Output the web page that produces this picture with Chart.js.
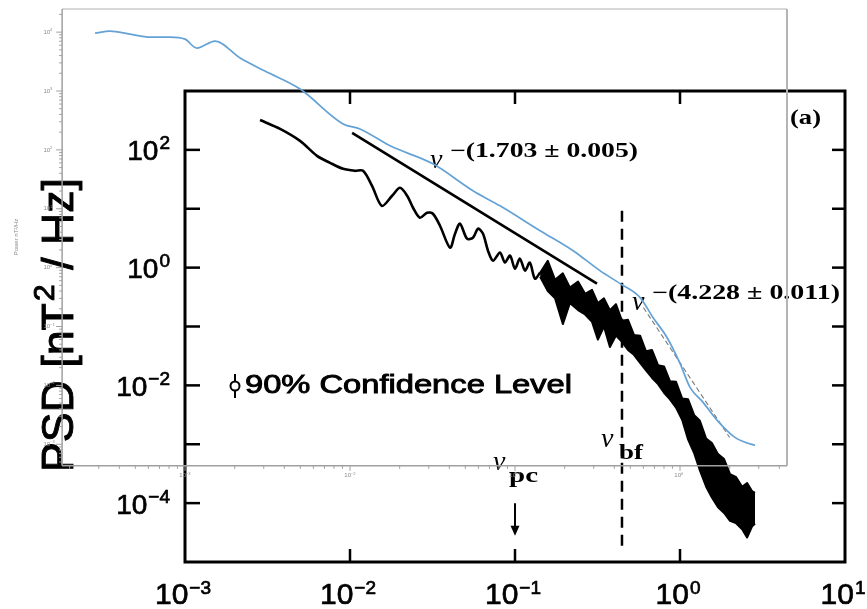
<!DOCTYPE html>
<html>
<head>
<meta charset="utf-8">
<script src="https://cdn.jsdelivr.net/npm/chart.js@4.4.1/dist/chart.umd.min.js"></script>
<style>
  html, body { margin: 0; padding: 0; background: #fff; }
  #psd { display: block; }
</style>
</head>
<body>
<canvas id="psd" width="867" height="609"></canvas>
<script>
// spectrum: frequency [Hz], PSD [nT^2/Hz]
var blackFreq = [2.85e-3, 3.77e-3, 4.98e-3, 6.31e-3, 7.57e-3, 9.08e-3, 1.07e-2, 1.20e-2, 1.36e-2, 1.56e-2,
                 1.80e-2, 2.01e-2, 2.22e-2, 2.41e-2, 2.65e-2, 2.93e-2, 3.18e-2, 3.51e-2, 4.04e-2, 4.33e-2,
                 4.64e-2, 5.12e-2, 5.56e-2, 5.97e-2, 6.40e-2, 6.86e-2, 7.36e-2, 8.11e-2, 8.69e-2, 9.33e-2,
                 0.100, 0.107, 0.115, 0.123, 0.132, 0.142];
var blackPsd = [322, 227, 142, 79.1, 60.2, 47.6, 44.1, 44.1, 24.5, 11.2,
                16.6, 22.7, 16.6, 10.4, 7.04, 8.55, 8.23, 5.15, 2.18, 3.77,
                5.57, 3.10, 3.22, 4.58, 3.77, 1.94, 1.31, 1.80, 1.22, 1.60,
                0.96, 1.42, 0.89, 1.22, 0.65, 0.82];

// noisy high-frequency part: upper and lower edge of the black band
var bandFreq = [0.142, 0.158, 0.175, 0.195, 0.215, 0.241, 0.266, 0.293, 0.318, 0.346,
                0.376, 0.409, 0.445, 0.484, 0.526, 0.573, 0.622, 0.676, 0.736, 0.800,
                0.869, 0.946, 1.03, 1.12, 1.22, 1.32, 1.44, 1.56, 1.70, 1.85,
                2.01, 2.18, 2.38, 2.55, 2.73, 2.85];
var bandHigh = [0.82, 1.3, 0.62, 0.80, 0.46, 0.58, 0.36, 0.42, 0.25, 0.30,
                0.19, 0.24, 0.125, 0.13, 0.072, 0.07, 0.038, 0.040, 0.022, 0.021,
                0.0118, 0.0115, 0.0060, 0.0058, 0.0031, 0.0025, 0.00125, 0.00105, 0.00068, 0.00056,
                0.00031, 0.00028, 0.00019, 0.00022, 0.00016, 0.00015];
var bandLow = [0.70, 0.40, 0.30, 0.11, 0.25, 0.19, 0.16, 0.12, 0.06, 0.10,
               0.045, 0.07, 0.055, 0.04, 0.033, 0.024, 0.018, 0.0135, 0.0105, 0.0075,
               0.0058, 0.0042, 0.0026, 0.0012, 0.0007, 0.00036, 0.00019, 0.000125, 8.5e-5, 6.8e-5,
               5.0e-5, 4.6e-5, 3.6e-5, 2.6e-5, 4.0e-5, 4.5e-5];

// blue curve of the pasted-over second plot
var blueFreq = [2.85e-4, 3.51e-4, 4.64e-4, 6.14e-4, 8.11e-4, 1.0e-3, 1.18e-3, 1.52e-3, 2.16e-3, 3.05e-3,
                4.98e-3, 9.08e-3, 1.15e-2, 1.75e-2, 3.18e-2, 5.56e-2, 8.11e-2, 0.142, 0.225, 0.327,
                0.433, 0.573, 0.686, 0.834, 1.0, 1.15, 1.38, 1.68, 2.15, 2.48, 2.85];
var bluePsd = [9600, 10400, 9250, 8230, 8230, 7610, 5350, 7040, 3630, 2180,
               1080, 276, 227, 117, 57.9, 20.2, 11.2, 4.24, 1.94, 0.89,
               0.535, 0.310, 0.142, 0.0651, 0.0236, 0.00925, 0.00515, 0.00255, 0.00131, 0.00108, 0.00096];

// power-law fits
var fit1Freq = [1.03e-2, 0.314];
var fit1Psd = [194, 0.535];
var fit2Freq = [0.60, 2.0];
var fit2Psd = [0.21, 0.0013];
var fitLabels = ['\u2212(1.703 \u00b1 0.005)', '\u2212(4.228 \u00b1 0.011)'];

// axes
var xTicks = [1e-3, 1e-2, 1e-1, 1, 10];
var xTickExp = ['\u22123', '\u22122', '\u22121', '0', '1'];
var xInner = [1e-2, 1e-1, 1];
var yTicks = [1e2, 1, 1e-2, 1e-4];
var yTickExp = ['2', '0', '\u22122', '\u22124'];
var yInner = [1e2, 1e1, 1, 1e-1, 1e-2, 1e-3, 1e-4];

var nuPc = 0.1;
var nuBf = 0.445;

// the inset plot frame (same scales as the main plot)
var insetX = [1.8e-4, 4.45];
var insetY = [4.3e-4, 2.47e4];
var insetYExp = [4, 3, 2, 1, 0, -1, -2, -3];
var insetXExp = [-3, -2, -1, 0];

var SANS = '"Liberation Sans", Arial, sans-serif';
var SERIF = '"Liberation Serif", "Times New Roman", serif';

function pts(xs, ys) {
  return xs.map(function(x, i) { return {x: x, y: ys[i]}; });
}

function seg(ctx, x1, y1, x2, y2) {
  ctx.beginPath(); ctx.moveTo(x1, y1); ctx.lineTo(x2, y2); ctx.stroke();
}

// draws text squeezed/stretched to a given width
function fitText(ctx, text, left, base, width, font, heavy) {
  ctx.font = font;
  var w = ctx.measureText(text).width;
  ctx.save();
  ctx.translate(left, base);
  ctx.scale(width / w, 1);
  ctx.textAlign = 'left';
  ctx.textBaseline = 'alphabetic';
  ctx.fillText(text, 0, 0);
  if (heavy) { ctx.lineWidth = heavy; ctx.strokeText(text, 0, 0); }
  ctx.restore();
}

// "10" with a raised exponent; x is the right edge or the centre
function pow10(ctx, exp, x, base, size, expSize, rise, align) {
  ctx.font = size + 'px ' + SANS;
  var wb = ctx.measureText('10').width;
  ctx.font = expSize + 'px ' + SANS;
  var we = ctx.measureText(exp).width;
  var left = align === 'right' ? x - wb - we - 1 : x - (wb + we + 1) / 2;
  ctx.textAlign = 'left';
  ctx.textBaseline = 'alphabetic';
  ctx.lineWidth = 0.7;
  ctx.font = size + 'px ' + SANS;
  ctx.fillText('10', left, base);
  ctx.strokeText('10', left, base);
  ctx.font = expSize + 'px ' + SANS;
  ctx.fillText(exp, left + wb + 1, base - rise);
  ctx.strokeText(exp, left + wb + 1, base - rise);
}

var framePlugin = {
  id: 'frame',
  beforeDatasetsDraw: function(chart) {
    var ctx = chart.ctx, a = chart.chartArea;
    var xs = chart.scales.x, ys = chart.scales.y;
    ctx.save();
    ctx.strokeStyle = '#000';
    ctx.fillStyle = '#000';
    ctx.lineCap = 'butt';

    ctx.lineWidth = 3;
    ctx.strokeRect(a.left, a.top, a.right - a.left, a.bottom - a.top);

    ctx.lineWidth = 2.5;
    yInner.forEach(function(v) {
      var y = ys.getPixelForValue(v);
      seg(ctx, a.left, y, a.left + 15, y);
      seg(ctx, a.right - 13, y, a.right, y);
    });
    xInner.forEach(function(v) {
      var x = xs.getPixelForValue(v);
      seg(ctx, x, a.bottom, x, a.bottom - 13);
      seg(ctx, x, a.top, x, a.top + 13);
    });

    yTicks.forEach(function(v, i) {
      pow10(ctx, yTickExp[i], a.left - 15, ys.getPixelForValue(v) + 10.5, 28, 19, 11, 'right');
    });
    xTicks.forEach(function(v, i) {
      pow10(ctx, xTickExp[i], xs.getPixelForValue(v) - 2, a.bottom + 42, 30, 19, 10, 'center');
    });

    // y title, rotated
    ctx.save();
    ctx.translate(73, 472);
    ctx.rotate(-Math.PI / 2);
    ctx.font = '44px ' + SANS;
    var p1 = 'PSD [nT', p3 = ' / Hz]';
    var w1 = ctx.measureText(p1).width, w3 = ctx.measureText(p3).width;
    ctx.font = '30px ' + SANS;
    var w2 = ctx.measureText('2').width;
    var k = 294 / (w1 + w2 + w3 + 4);
    ctx.scale(k, 1);
    ctx.textBaseline = 'alphabetic';
    ctx.lineWidth = 0.9;
    ctx.font = '44px ' + SANS;
    ctx.fillText(p1, 0, 0); ctx.strokeText(p1, 0, 0);
    ctx.font = '30px ' + SANS;
    ctx.fillText('2', w1 + 2, -19); ctx.strokeText('2', w1 + 2, -19);
    ctx.font = '44px ' + SANS;
    ctx.fillText(p3, w1 + w2 + 4, 0); ctx.strokeText(p3, w1 + w2 + 4, 0);
    ctx.restore();

    // break frequency, dashed
    var xb = xs.getPixelForValue(nuBf);
    ctx.lineWidth = 2.5;
    ctx.setLineDash([11, 7]);
    seg(ctx, xb, ys.getPixelForValue(9.25), xb, ys.getPixelForValue(1.5e-5));
    ctx.setLineDash([]);

    // arrow at nu_pc
    var xp = xs.getPixelForValue(nuPc);
    var yA = ys.getPixelForValue(1e-4), yB = ys.getPixelForValue(2.8e-5);
    ctx.lineWidth = 2;
    seg(ctx, xp, yA, xp, yB - 8);
    ctx.beginPath();
    ctx.moveTo(xp - 4.5, yB - 10); ctx.lineTo(xp + 4.5, yB - 10); ctx.lineTo(xp, yB); ctx.closePath();
    ctx.fill();

    // labels
    ctx.font = 'italic 28px ' + SERIF;
    ctx.textAlign = 'left';
    ctx.fillText('\u03bd', 493, 470);
    ctx.fillText('\u03bd', 601, 447);
    ctx.fillText('\u03bd', 430, 168);
    ctx.fillText('\u03bd', 632, 310);
    fitText(ctx, 'pc', 509, 482, 29, 'bold 22px ' + SERIF);
    fitText(ctx, 'bf', 619, 459, 24, 'bold 22px ' + SERIF);
    fitText(ctx, fitLabels[0], 450, 157, 188, 'bold 20px ' + SERIF);
    fitText(ctx, fitLabels[1], 652, 299, 188, 'bold 20px ' + SERIF);
    fitText(ctx, '(a)', 790, 124, 31, 'bold 21px ' + SERIF);

    // confidence marker
    ctx.lineWidth = 2;
    seg(ctx, 235, 374, 235, 398);
    ctx.beginPath(); ctx.arc(235, 386, 4.5, 0, Math.PI * 2);
    ctx.fillStyle = '#fff'; ctx.fill(); ctx.stroke();
    ctx.fillStyle = '#000';
    fitText(ctx, '90% Confidence Level', 245, 393, 327, '25px ' + SANS, 0.9);
    ctx.restore();
  },
  afterDatasetsDraw: function(chart) {
    var ctx = chart.ctx;
    var xs = chart.scales.x, ys = chart.scales.y;
    var l = xs.getPixelForValue(insetX[0]), r = xs.getPixelForValue(insetX[1]);
    var t = ys.getPixelForValue(insetY[1]), b = ys.getPixelForValue(insetY[0]);
    ctx.save();
    ctx.lineWidth = 2;
    ctx.strokeStyle = '#d8d8d8';
    seg(ctx, l, t, r, t);
    ctx.strokeStyle = '#b4b4b4';
    seg(ctx, r, t, r, b);
    ctx.lineWidth = 1.5;
    ctx.strokeStyle = '#a0a0a0';
    seg(ctx, l, t, l, b);
    seg(ctx, l, b, r, b);

    // minor log ticks of the inset
    ctx.lineWidth = 1;
    for (var e = -4; e <= 4; e++) {
      for (var m = 1; m <= 9; m++) {
        var v = m * Math.pow(10, e);
        var y = ys.getPixelForValue(v);
        if (y > t && y < b) seg(ctx, l - (m === 1 ? 6 : 3), y, l, y);
        var x = xs.getPixelForValue(v);
        if (x > l && x < r) seg(ctx, x, b, x, b + (m === 1 ? 5 : 3));
      }
    }
    ctx.fillStyle = '#8a8a8a';
    ctx.textBaseline = 'middle';
    insetYExp.forEach(function(e) {
      var y = ys.getPixelForValue(Math.pow(10, e));
      ctx.font = '6px ' + SANS;
      ctx.textAlign = 'right';
      ctx.fillText('10', l - 12, y);
      ctx.font = '4px ' + SANS;
      ctx.textAlign = 'left';
      ctx.fillText(String(e).replace('-', '\u2212'), l - 12, y - 2);
    });
    insetXExp.forEach(function(e) {
      var x = xs.getPixelForValue(Math.pow(10, e));
      ctx.font = '6px ' + SANS;
      ctx.textAlign = 'right';
      ctx.fillText('10', x + 1, b + 10);
      ctx.font = '4px ' + SANS;
      ctx.textAlign = 'left';
      ctx.fillText(String(e).replace('-', '\u2212'), x + 1, b + 8);
    });
    ctx.save();
    ctx.translate(16, 237);
    ctx.rotate(-Math.PI / 2);
    ctx.textAlign = 'center';
    ctx.font = '6px ' + SANS;
    ctx.fillText('Power nT\u00b2/Hz', 0, 0);
    ctx.restore();
    ctx.restore();
  }
};

new Chart(document.getElementById('psd').getContext('2d'), {
  type: 'line',
  data: {
    datasets: [
      {
        label: 'inset', data: pts(blueFreq, bluePsd), order: 0, clip: false,
        borderColor: '#64a2d6', borderWidth: 1.7, cubicInterpolationMode: 'monotone', fill: false
      },
      {
        label: 'fit 2', data: pts(fit2Freq, fit2Psd), order: 1,
        borderColor: '#777', borderWidth: 1.1, borderDash: [5, 3], fill: false
      },
      {
        label: 'fit 1', data: pts(fit1Freq, fit1Psd), order: 2,
        borderColor: '#000', borderWidth: 2.6, fill: false
      },
      {
        label: 'PSD', data: pts(blackFreq, blackPsd), order: 3,
        borderColor: '#000', borderWidth: 2.6, tension: 0.3, fill: false
      },
      {
        label: 'band high', data: pts(bandFreq, bandHigh), order: 4,
        borderColor: '#000', borderWidth: 2, fill: false
      },
      {
        label: 'band low', data: pts(bandFreq, bandLow), order: 5,
        borderColor: '#000', borderWidth: 2, backgroundColor: '#000', fill: '-1'
      }
    ]
  },
  options: {
    responsive: false,
    animation: false,
    devicePixelRatio: 1,
    layout: { padding: { left: 185, right: 22, top: 91, bottom: 47 } },
    elements: { point: { radius: 0 }, line: { borderJoinStyle: 'round' } },
    plugins: { legend: { display: false }, tooltip: { enabled: false } },
    scales: {
      // range set after the data limits so that the inset curve left of 1e-3 is still drawn
      x: {
        type: 'logarithmic', display: false, bounds: 'data',
        afterDataLimits: function(s) { s.min = 1e-3; s.max = 10; }
      },
      y: { type: 'logarithmic', min: 1e-5, max: 1e3, display: false }
    }
  },
  plugins: [framePlugin]
});
</script>
</body>
</html>
